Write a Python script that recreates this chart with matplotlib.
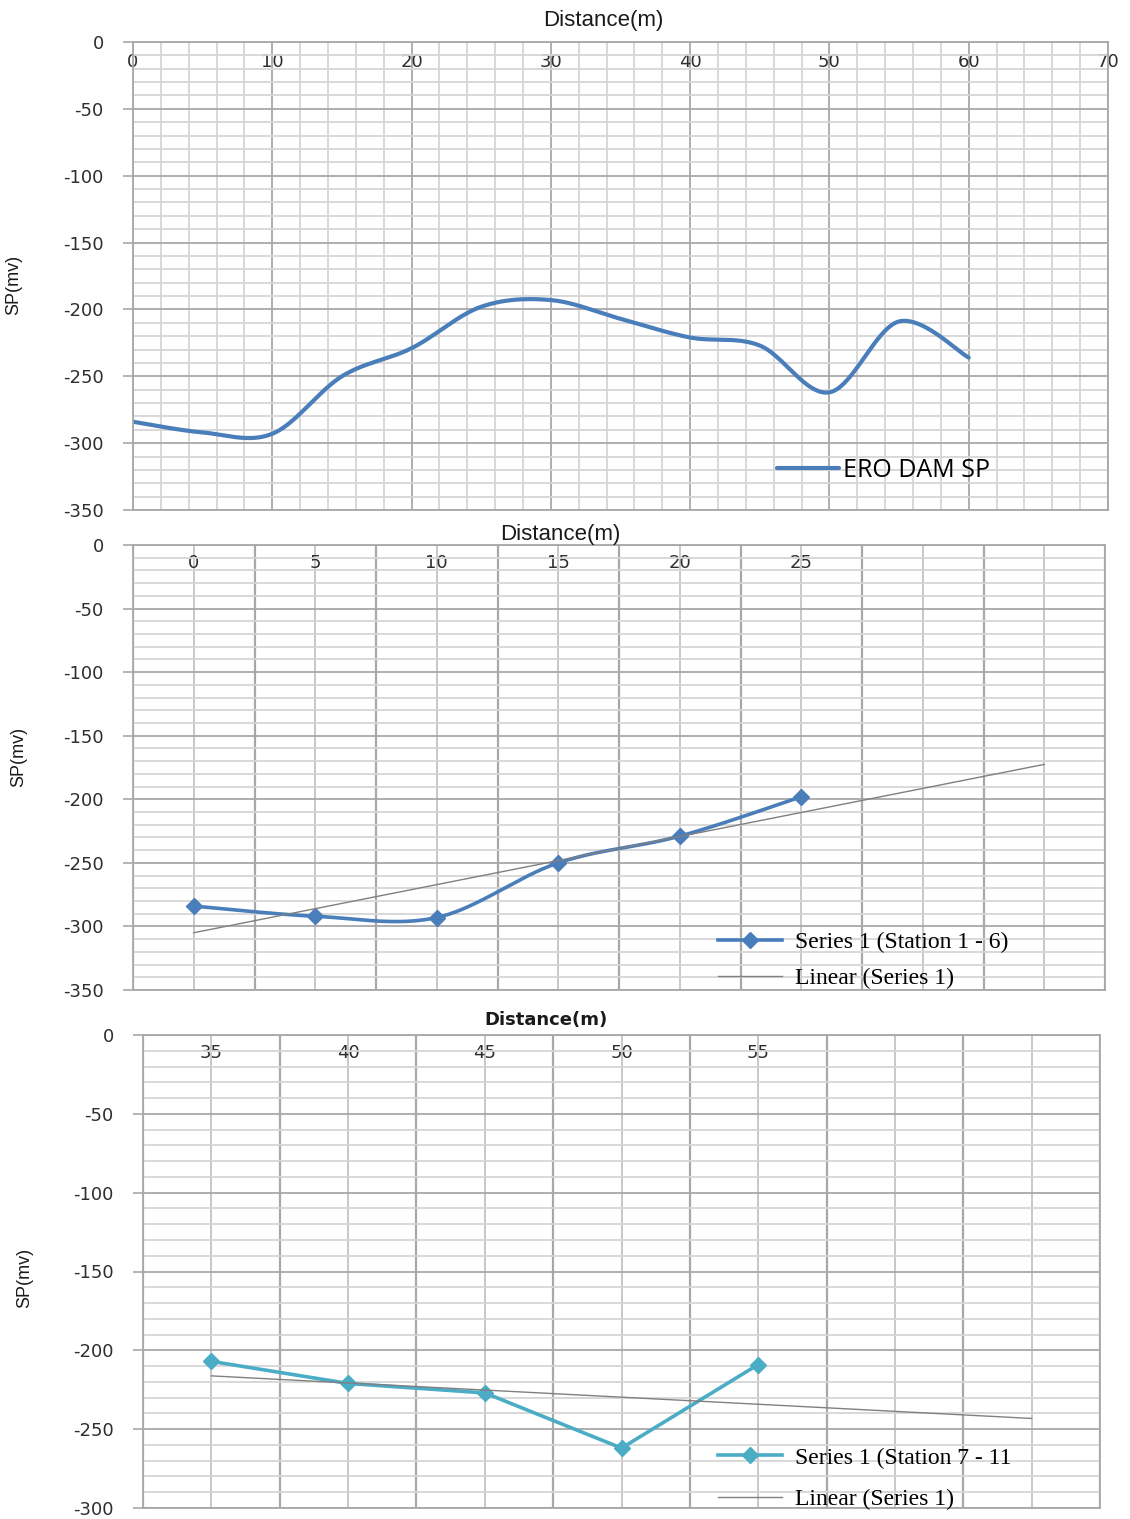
import numpy as np
import matplotlib.pyplot as plt
from matplotlib.lines import Line2D
from matplotlib.ticker import MultipleLocator, FixedLocator

plt.rcParams['axes.unicode_minus'] = False

# SP readings along the Ero dam profile (one station every 5 m)
distance = [0, 5, 10, 15, 20, 25, 30, 35, 40, 45, 50, 55, 60]
sp_mv = [-284, -292, -293, -250, -229, -198, -193, -207, -221, -227, -262, -209, -236]

# stations 1-6, drawn as a category chart
cats_1_6 = ['0', '5', '10', '15', '20', '25', '', '']
sp_1_6 = [-284, -292, -293, -250, -229, -198]

# stations 7-11
cats_7_11 = ['35', '40', '45', '50', '55', '', '']
sp_7_11 = [-207, -221, -227, -262, -209]

BLUE = '#4a7ebb'
TEAL = '#4bacc6'
TREND = '#808080'
GRID_MAJ = '#a8a8a8'
GRID_MIN = '#d6d6d6'
TXT = '#2e2e2e'

tick_font = dict(family='DejaVu Sans', size=13)
title_font = dict(family=['Liberation Sans Narrow', 'Liberation Sans', 'DejaVu Sans'], size=16)


def smooth(x, y, n=40):
    # excel style smoothed line: bezier segments through every point
    pts = np.column_stack([np.asarray(x, float), np.asarray(y, float)])
    out = [pts[0]]
    t = np.linspace(0, 1, n)[1:, None]
    for i in range(len(pts) - 1):
        p0 = pts[max(i - 1, 0)]
        p1, p2 = pts[i], pts[i + 1]
        p3 = pts[min(i + 2, len(pts) - 1)]
        c1 = p1 + (p2 - p0) / 6
        c2 = p2 - (p3 - p1) / 6
        seg = (1 - t) ** 3 * p1 + 3 * (1 - t) ** 2 * t * c1 + 3 * (1 - t) * t ** 2 * c2 + t ** 3 * p2
        out.extend(seg)
    out = np.array(out)
    return out[:, 0], out[:, 1]


def base_axes(ax, ymin, label_pad_px):
    ax.set_ylim(ymin, 0)
    ax.yaxis.set_major_locator(MultipleLocator(50))
    ax.yaxis.set_minor_locator(MultipleLocator(10))
    ax.grid(which='major', axis='y', color=GRID_MAJ, lw=1.3)
    ax.grid(which='minor', axis='y', color=GRID_MIN, lw=1.3)
    ax.set_axisbelow(True)
    for s in ax.spines.values():
        s.set_color(GRID_MAJ)
        s.set_linewidth(1.3)
    ax.tick_params(axis='y', which='major', direction='out', length=7, width=1.2,
                   color=GRID_MAJ, pad=14, labelcolor=TXT)
    ax.tick_params(axis='y', which='minor', length=0)
    ax.tick_params(axis='x', which='both', bottom=False, top=False, labelbottom=False,
                   labeltop=True, length=0, pad=-label_pad_px * 0.72, labelcolor=TXT)
    for lbl in ax.get_yticklabels() + ax.get_xticklabels():
        lbl.set_fontfamily(tick_font['family'])
        lbl.set_fontsize(tick_font['size'])
    for lbl in ax.get_xticklabels():
        lbl.set_va('center')
    ax.set_ylabel('SP(mv)', fontsize=13, family=title_font['family'], color='#1a1a1a')


fig = plt.figure(figsize=(11.3, 15.19), dpi=100)
W, H = 1130, 1519


def add_axes(x0, y0, x1, y1):
    return fig.add_axes([x0 / W, 1 - y1 / H, (x1 - x0) / W, (y1 - y0) / H])


# ---- full profile --------------------------------------------------------
ax1 = add_axes(133, 42, 1108, 510)
ax1.set_xlim(0, 70)
ax1.xaxis.set_major_locator(MultipleLocator(10))
ax1.xaxis.set_minor_locator(MultipleLocator(2))
ax1.grid(which='major', axis='x', color=GRID_MAJ, lw=1.3)
ax1.grid(which='minor', axis='x', color=GRID_MIN, lw=1.3)
base_axes(ax1, -350, 20)
sx, sy = smooth(distance, sp_mv)
ax1.plot(sx, sy, color=BLUE, lw=3, label='ERO DAM SP', solid_capstyle='round')
ax1.text(0.482, 1.047, 'Distance(m)', transform=ax1.transAxes, ha='center', va='center',
         color='#1a1a1a', **title_font)
ax1.yaxis.set_label_coords(-0.114, 0.48)
ax1.legend(loc='center left', bbox_to_anchor=(0.66, 0.085), frameon=False,
           prop=dict(family=['Open Sans', 'DejaVu Sans'], size=18),
           handlelength=2.5, handletextpad=0.15, borderpad=0, borderaxespad=0)


def category_panel(ax, cats, values, color, label, smoothed, title_xy, title_kw,
                   ylabel_xy, leg_xy, spacing):
    n = len(cats)
    idx = np.arange(len(values))
    ax.set_xlim(-0.5, n - 0.5)
    ax.xaxis.set_major_locator(FixedLocator(np.arange(n)))
    ax.xaxis.set_minor_locator(FixedLocator(np.arange(n + 1) - 0.5))
    ax.set_xticklabels(cats)
    ax.grid(which='major', axis='x', color='#c4c4c4', lw=1.3)
    ax.grid(which='minor', axis='x', color=GRID_MAJ, lw=1.6)
    base_axes(ax, ax.get_ylim()[0], 18)
    if smoothed:
        sx, sy = smooth(idx, values)
    else:
        sx, sy = idx, values
    ax.plot(sx, sy, color=color, lw=2.6)
    ax.plot(idx, values, ls='none', marker='D', ms=8, color=color)
    # linear trend, forecast forward over the empty categories
    k, b = np.polyfit(idx, values, 1)
    xt = np.arange(n)
    ax.plot(xt, k * xt + b, color=TREND, lw=1.0)
    ax.text(title_xy[0], title_xy[1], 'Distance(m)', transform=ax.transAxes,
            ha='center', va='center', color='#1a1a1a', **title_kw)
    ax.yaxis.set_label_coords(*ylabel_xy)
    handles = [Line2D([], [], color=color, lw=2.6, marker='D', ms=8),
               Line2D([], [], color=TREND, lw=1.0)]
    ax.legend(handles, [label, 'Linear (Series 1)'], loc='center left', bbox_to_anchor=leg_xy,
              frameon=False, prop=dict(family=['Liberation Serif', 'DejaVu Serif'], size=17),
              handlelength=2.7, handletextpad=0.55, labelspacing=spacing,
              borderpad=0, borderaxespad=0)


# ---- stations 1-6 ----------------------------------------------------------
ax2 = add_axes(133, 545, 1105, 990)
ax2.set_ylim(-350, 0)
category_panel(ax2, cats_1_6, sp_1_6, BLUE, 'Series 1 (Station 1 - 6)', True,
               (0.44, 1.0225), title_font, (-0.109, 0.524), (0.602, 0.067), 0.62)

# ---- stations 7-11 ---------------------------------------------------------
ax3 = add_axes(143, 1035, 1100, 1508)
ax3.set_ylim(-300, 0)
category_panel(ax3, cats_7_11, sp_7_11, TEAL, 'Series 1 (Station 7 - 11', False,
               (0.421, 1.031), dict(family='DejaVu Sans', size=13, weight='semibold'),
               (-0.115, 0.486), (0.601, 0.062), 0.85)

fig.savefig('out.png', dpi=100)
